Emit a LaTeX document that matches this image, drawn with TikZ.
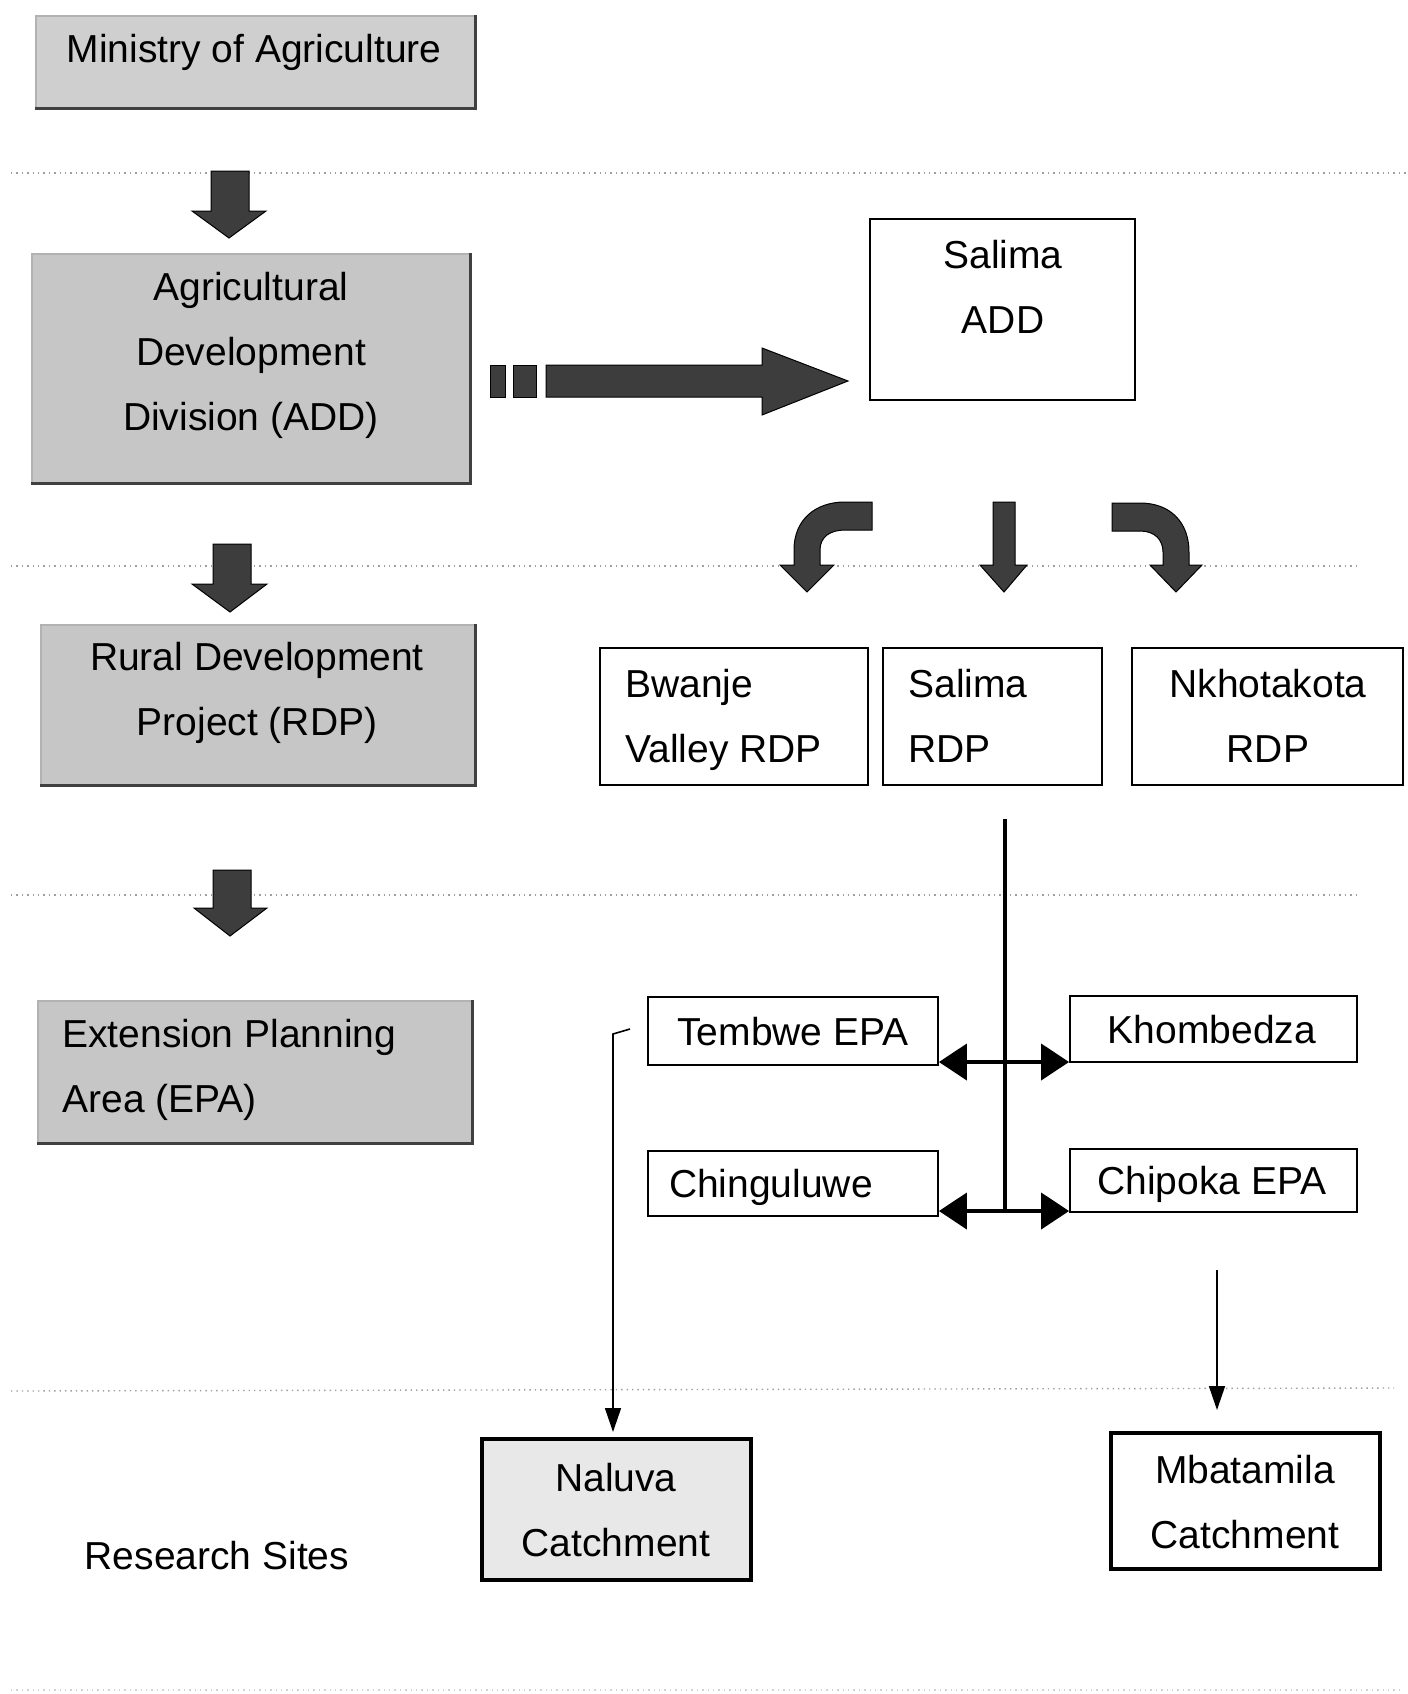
\documentclass[tikz,border=0pt]{standalone}
\usepackage{fontspec}
\setmainfont{Liberation Sans}
\usetikzlibrary{arrows.meta,fit}
\begin{document}
\begin{tikzpicture}[x=0.5pt,y=-0.5pt,
  txt/.style={font=\fontsize{19.5}{32.5}\selectfont, inner sep=0pt, align=center},
  graybox/.style={draw=gray!60, fill=gray!45, line width=0.6pt, inner sep=0pt},
  shadowedge/.style={draw=black!75, line width=1.4pt},
  wbox/.style={draw=black, line width=0.9pt, fill=white, inner sep=0pt},
  cbox/.style={draw=black, line width=2pt, inner sep=0pt},
  blockarrow/.style={fill=black!76, draw=black, line width=0.5pt, line join=miter},
  sepline/.style={gray!75, dotted, line width=0.7pt},
  dbl/.style={line width=2pt, {Triangle[length=14pt,width=18pt]}-{Triangle[length=14pt,width=18pt]}},
  thinarrow/.style={line width=0.8pt, -{Triangle[length=12pt,width=8pt]}}
]
\useasboundingbox (0,0) rectangle (1408,1694);

% separator lines
\draw[sepline] (11,173) -- (1408,173);
\draw[sepline] (11,566) -- (1356,566);
\draw[sepline] (11,895) -- (1356,895);
\draw[sepline] (11,1391) -- (1394,1388);
\draw[sepline, gray!35] (11,1690) -- (1400,1690);

% left column boxes
\node[graybox, fill=gray!38, fit={(36,16) (475,108)}] (min) {};
\draw[shadowedge] (min.north east) -- (min.south east) -- (min.south west);
\node[txt] (tmin) at (254,52) {Ministry of Agriculture};

\node[graybox, fit={(32,254) (470,483)}] (add) {};
\draw[shadowedge] (add.north east) -- (add.south east) -- (add.south west);
\node[txt] (tadd) at (251,355) {Agricultural\\Development\\Division (ADD)};

\node[graybox, fit={(41,625) (475,785)}] (rdp) {};
\draw[shadowedge] (rdp.north east) -- (rdp.south east) -- (rdp.south west);
\node[txt] (trdp) at (257,693) {Rural Development\\Project (RDP)};

\node[graybox, fit={(38,1001) (472,1143)}] (epa) {};
\draw[shadowedge] (epa.north east) -- (epa.south east) -- (epa.south west);
\node[txt, align=left, anchor=west] (tepa) at (62,1070) {Extension Planning\\Area (EPA)};

% left block arrows
\path[blockarrow] (211,171) -- (249,171) -- (249,211) -- (266,211) -- (229,238) -- (192,211) -- (211,211) -- cycle;
\path[blockarrow] (213,544) -- (251,544) -- (251,584) -- (267,584) -- (230,612) -- (192,584) -- (213,584) -- cycle;
\path[blockarrow] (213,870) -- (251,870) -- (251,908) -- (267,908) -- (230,936) -- (194,908) -- (213,908) -- cycle;

% big right arrow
\path[blockarrow] (490,365) rectangle (505,397);
\path[blockarrow] (513,365) rectangle (536,397);
\path[blockarrow] (546,365) -- (762,365) -- (762,348) -- (848,381) -- (762,415) -- (762,397) -- (546,397) -- cycle;

% Salima ADD
\node[wbox, fit={(870,219) (1135,400)}] (sadd) {};
\node[txt] (tsadd) at (1003,287) {Salima\\ADD};

% curved / straight arrows below Salima ADD
\path[blockarrow] (872,502) -- (845,502) .. controls (815,502) and (794,520) .. (794,550) -- (794,565) -- (780,565) -- (807,592) -- (834,565) -- (820,565) -- (820,550) .. controls (820,537) and (830,530) .. (845,530) -- (872,530) -- cycle;
\path[blockarrow] (993,502) -- (1015,502) -- (1015,565) -- (1027,565) -- (1004,592) -- (980,565) -- (993,565) -- cycle;
\path[blockarrow] (1112,503) -- (1140,503) .. controls (1170,503) and (1189,522) .. (1189,552) -- (1189,565) -- (1202,565) -- (1176,592) -- (1150,565) -- (1163,565) -- (1163,552) .. controls (1163,540) and (1155,531) .. (1140,531) -- (1112,531) -- cycle;

% RDP boxes
\node[wbox, fit={(600,648) (868,785)}] (bw) {};
\node[txt, align=left, anchor=west] (tbw) at (625,720) {Bwanje\\Valley RDP};
\node[wbox, fit={(883,648) (1102,785)}] (srdp) {};
\node[txt, align=left, anchor=west] (tsrdp) at (908,716) {Salima\\RDP};
\node[wbox, fit={(1132,648) (1403,785)}] (nk) {};
\node[txt] (tnk) at (1268,716) {Nkhotakota\\RDP};

% EPA boxes
\node[wbox, fit={(648,997) (938,1065)}] (tem) {};
\node[txt] (ttem) at (793,1032) {Tembwe EPA};
\node[wbox, fit={(1070,996) (1357,1062)}] (kho) {};
\node[txt] (tkho) at (1212,1030) {Khombedza};
\node[wbox, fit={(648,1151) (938,1216)}] (chi) {};
\node[txt] (tchi) at (771,1187) {Chinguluwe};
\node[wbox, fit={(1070,1149) (1357,1212)}] (chp) {};
\node[txt] (tchp) at (1212,1184) {Chipoka EPA};

% vertical trunk and double arrows
\coordinate (vtop) at (1005,819);
\coordinate (j1) at (1005,1062);
\coordinate (j2) at (1005,1211);
\draw[line width=2pt] (vtop) -- (j2);
\draw[dbl] (tem.east |- j1) -- (kho.west |- j1);
\draw[dbl] (chi.east |- j2) -- (chp.west |- j2);

% research sites
\node[cbox, fill=gray!18, fit={(482,1439) (751,1580)}] (nal) {};
\node[txt] (tnal) at (616,1510) {Naluva\\Catchment};
\node[cbox, fill=white, fit={(1111,1433) (1380,1569)}] (mba) {};
\node[txt] (tmba) at (1245,1502) {Mbatamila\\Catchment};
\node[txt] (rs) at (217,1556) {Research Sites};

% thin arrows to catchments
\coordinate (t1) at (630,1029);
\coordinate (t2) at (613,1034);
\coordinate (t3) at (613,1432);
\draw[thinarrow] (t1) -- (t2) -- (t3);
\coordinate (m1) at (1217,1270);
\coordinate (m2) at (1217,1410);
\draw[thinarrow] (m1) -- (m2);
\end{tikzpicture}
\end{document}
